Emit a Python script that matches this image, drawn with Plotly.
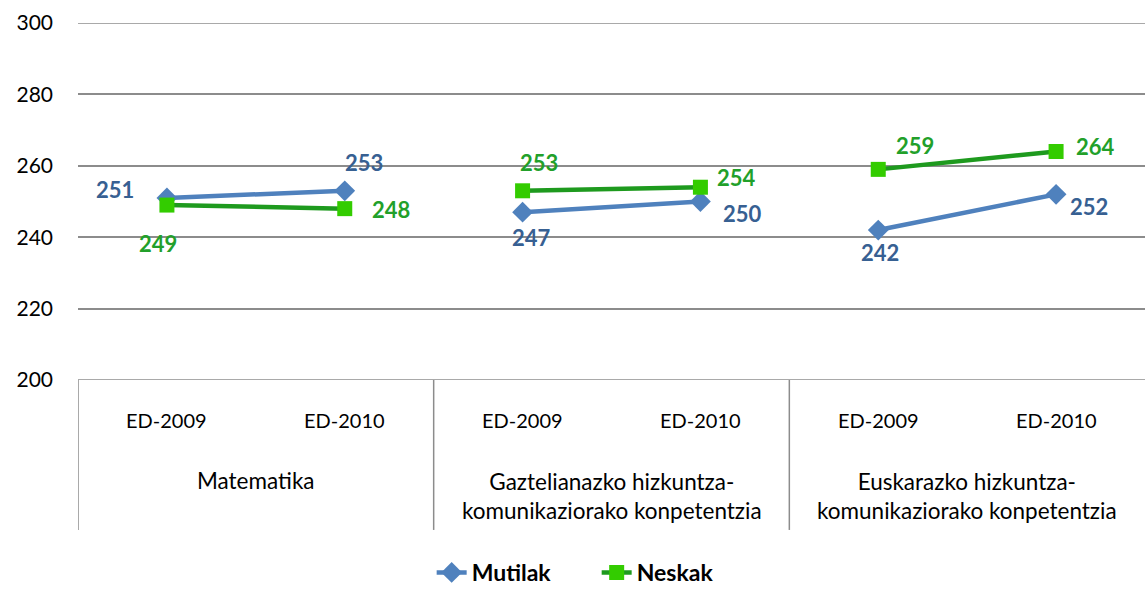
import plotly.graph_objects as go

groups = ["Matematika",
          "Gaztelianazko hizkuntza-<br>komunikaziorako konpetentzia",
          "Euskarazko hizkuntza-<br>komunikaziorako konpetentzia"]
years = ["ED-2009", "ED-2010"]
mutilak = [251, 253, 247, 250, 242, 252]
neskak = [249, 248, 253, 254, 259, 264]
y_ticks = [200, 220, 240, 260, 280, 300]

# label offsets (pixels) for data labels
mut_off = [(-52, 8), (19, 28), (9, -25), (42, -12), (2, -22), (33, -12)]
nes_off = [(-9, -38), (46, -1), (16, 28), (36, 10), (37, 24), (39, 5)]

BLUE = "#4F81BD"
BLUE_TXT = "#376092"
GREEN_LINE = "#1E9A1E"
GREEN_MK = "#33CC00"
GREEN_TXT = "#22A02A"
GRID = "#8C8C8C"
FONT = "Lato"

fig = go.Figure()
n_groups = len(groups)
for g in range(n_groups):
    xs = [2 * g, 2 * g + 1]
    fig.add_trace(go.Scatter(
        x=xs, y=mutilak[2 * g:2 * g + 2], mode="lines+markers", name="Mutilak",
        legendgroup="m", showlegend=(g == 0),
        line=dict(color=BLUE, width=4.5),
        marker=dict(symbol="diamond", size=16, color=BLUE)))
for g in range(n_groups):
    xs = [2 * g, 2 * g + 1]
    fig.add_trace(go.Scatter(
        x=xs, y=neskak[2 * g:2 * g + 2], mode="lines+markers", name="Neskak",
        legendgroup="n", showlegend=(g == 0),
        line=dict(color=GREEN_LINE, width=4.5),
        marker=dict(symbol="square", size=15, color=GREEN_MK)))

anns = []
for i, v in enumerate(mutilak):
    dx, dy = mut_off[i]
    anns.append(dict(x=i, y=v, text=f"<b>{v}</b>", showarrow=False, xshift=dx, yshift=dy,
                     font=dict(size=22, color=BLUE_TXT, family=FONT)))
for i, v in enumerate(neskak):
    dx, dy = nes_off[i]
    anns.append(dict(x=i, y=v, text=f"<b>{v}</b>", showarrow=False, xshift=dx, yshift=dy,
                     font=dict(size=22, color=GREEN_TXT, family=FONT)))
# category labels
for i in range(2 * n_groups):
    anns.append(dict(x=i, y=0, yref="paper", text=years[i % 2], showarrow=False,
                     yanchor="middle", yshift=-40,
                     font=dict(size=20, color="#000000", family=FONT)))
for g, name in enumerate(groups):
    two = "<br>" in name
    anns.append(dict(x=2 * g + 0.5, y=0, yref="paper", text=name, showarrow=False,
                     yanchor="middle", yshift=(-116 if two else -100),
                     font=dict(size=22.5, color="#000000", family=FONT)))

shapes = []
for g in range(n_groups):
    xb = 2 * g - 0.5
    shapes.append(dict(type="line", xref="x", yref="paper", x0=xb, x1=xb, y0=0, y1=-0.42,
                       line=dict(color=GRID, width=1.5)))
# bottom axis line and top gridline
for yv in (y_ticks[0], y_ticks[-1]):
    shapes.append(dict(type="line", xref="paper", yref="y", x0=0, x1=1, y0=yv, y1=yv,
                       line=dict(color=GRID, width=1.5), layer="below"))

fig.update_layout(
    width=1145, height=594,
    margin=dict(l=78, r=0, t=23, b=214, autoexpand=False),
    paper_bgcolor="white", plot_bgcolor="white",
    font=dict(family=FONT, color="#000000"),
    annotations=anns, shapes=shapes,
    legend=dict(orientation="h", xref="container", yref="container",
                x=0.377, xanchor="left", y=0, yanchor="bottom",
                entrywidth=120, entrywidthmode="pixels",
                font=dict(size=23, family=FONT, color="#000000", weight="bold"),
                tracegroupgap=0),
    xaxis=dict(range=[-0.5, 5.5], showticklabels=False, showgrid=False, zeroline=False,
               showline=False, fixedrange=True),
    yaxis=dict(range=[200, 300], tickvals=y_ticks, showgrid=True, gridcolor=GRID, gridwidth=1.5,
               zeroline=False, showline=False, tickfont=dict(size=21, color="#000000", family=FONT),
               ticklabelstandoff=24, ticks=""),
)

fig.write_html("out.html", config={"displayModeBar": False},
               post_script="document.body.style.margin='0';document.body.style.overflow='hidden';")
